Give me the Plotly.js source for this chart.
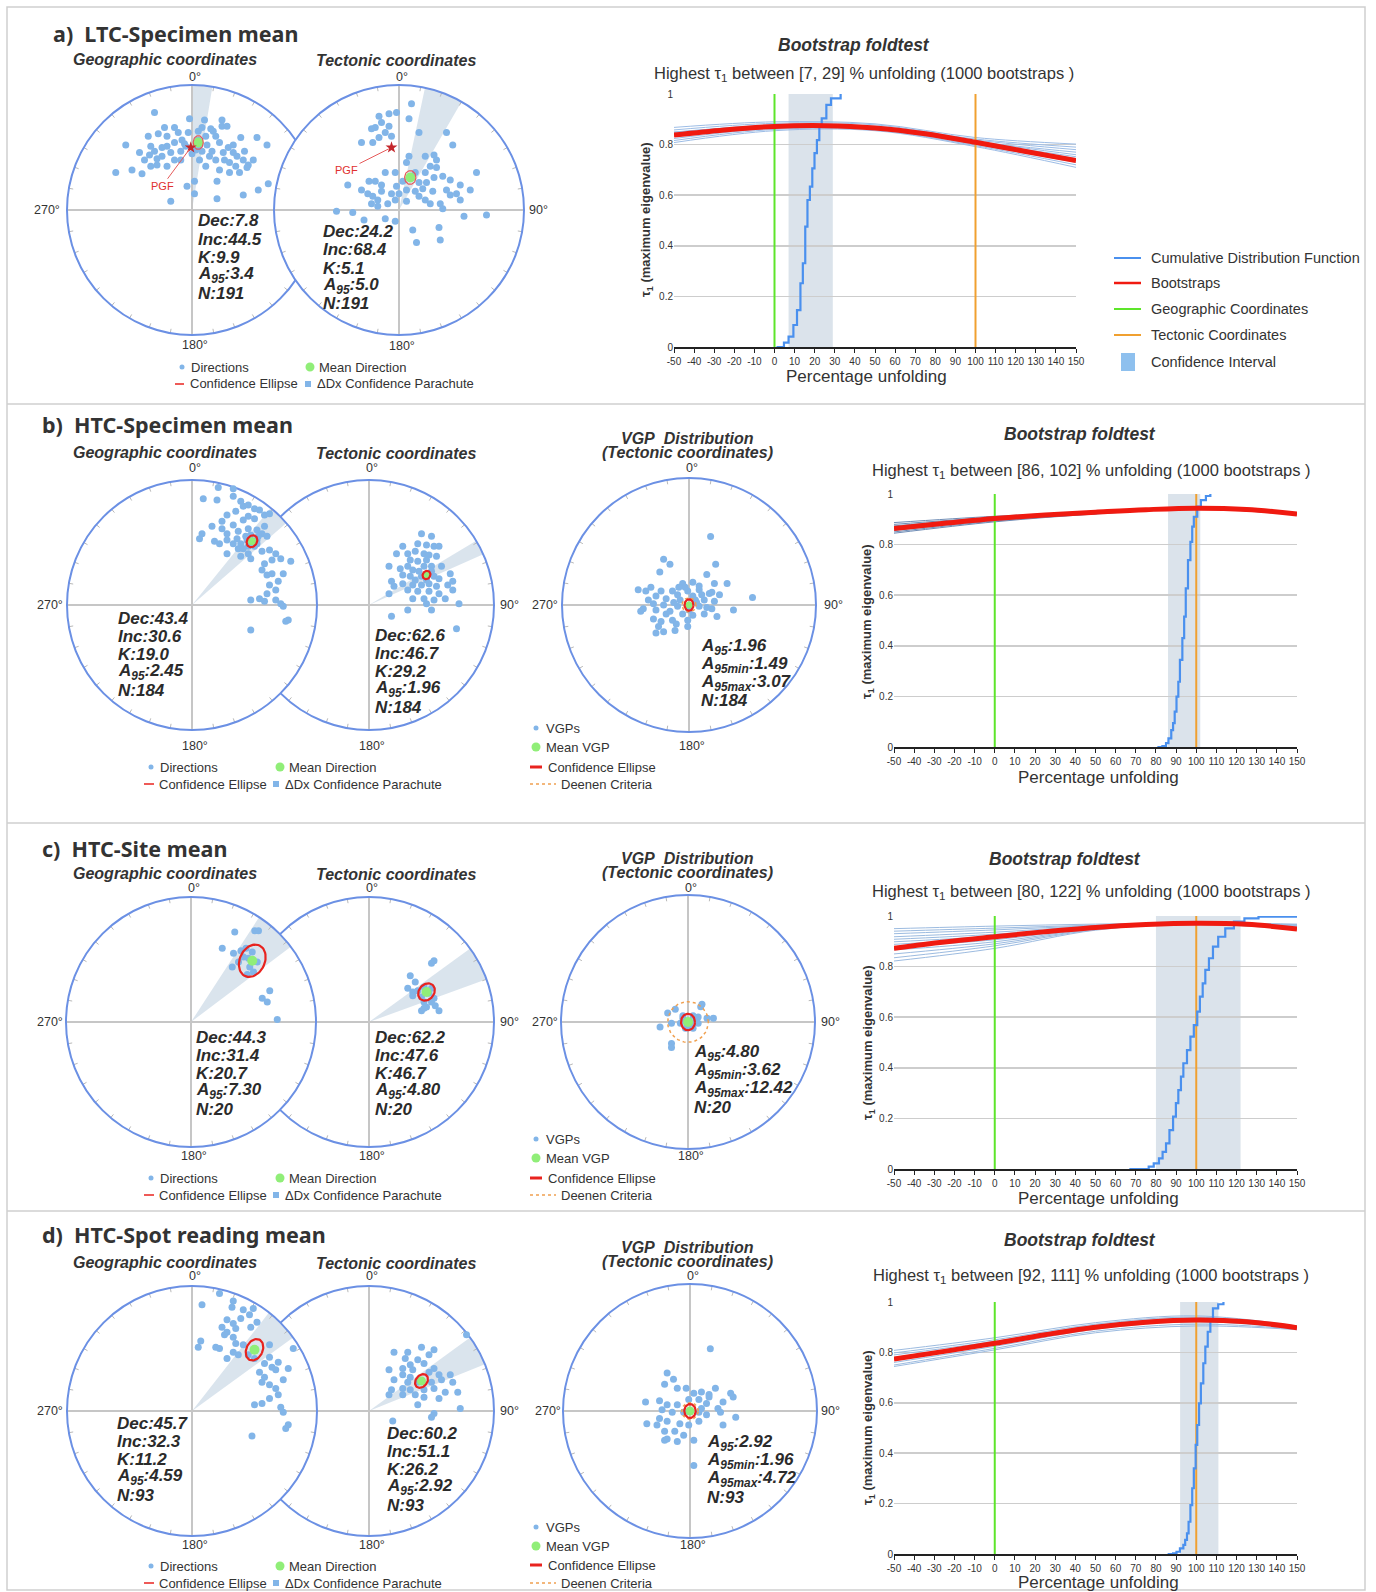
<!DOCTYPE html>
<html><head><meta charset="utf-8">
<script src="https://cdn.plot.ly/plotly-3.0.1.min.js"></script>
<style>html,body{margin:0;padding:0;background:#fff}#chart{width:1376px;height:1592px}</style>
</head><body><div id="chart"></div>
<script>
// ---------------- DATA ----------------
// stereonet point positions (normalized to net radius, x east, y north)
const aGeoX = [-0.30,-0.53,-0.61,-0.48,-0.40,-0.17,-0.04,0.02,0.02,0.20,0.20,0.41,0.53,0.61,0.60,0.52,0.39,0.24,0.10,-0.02,-0.14,-0.22,-0.27,-0.35,-0.33,-0.34,-0.28,-0.30,-0.20,-0.14,-0.08,-0.03,0.05,0.11,0.17,0.24,0.28,0.19,0.22,0.29,0.33,0.36,0.42,0.41,0.45,0.38,0.30,0.22,0.19,0.16,0.08,0.06,0.14,0.11,-0.05,-0.09,-0.17,-0.24,-0.28,-0.20,-0.42,-0.33,-0.20,-0.11,0.05,0.30,0.49,0.44,0.33,0.25,-0.09,-0.14,0.05,0.00,0.03,-0.06,0.12,0.26,0.35,-0.38,-0.24,0.15,0.08];
const aGeoY = [0.78,0.52,0.30,0.32,0.29,0.07,0.19,0.13,0.23,0.23,0.09,0.12,0.16,0.21,0.52,0.58,0.58,0.72,0.72,0.73,0.66,0.66,0.61,0.59,0.51,0.44,0.41,0.47,0.51,0.54,0.56,0.62,0.63,0.59,0.63,0.67,0.67,0.59,0.54,0.50,0.46,0.43,0.47,0.40,0.36,0.30,0.30,0.32,0.40,0.47,0.47,0.40,0.43,0.35,0.51,0.47,0.46,0.43,0.36,0.35,0.46,0.35,0.59,0.62,0.56,0.38,0.40,0.34,0.52,0.46,0.40,0.40,0.51,0.45,0.48,0.53,0.52,0.40,0.35,0.40,0.50,0.65,0.66];
const aTecX = [0.10,-0.16,-0.08,-0.02,-0.14,-0.08,-0.19,-0.11,-0.22,-0.06,-0.16,-0.21,0.16,0.08,0.38,0.43,-0.30,0.08,0.21,0.28,0.30,0.25,0.06,-0.03,-0.11,-0.19,-0.24,-0.41,0.62,0.57,0.49,0.41,0.35,0.28,0.22,0.16,0.06,0.00,-0.06,-0.14,-0.21,-0.22,-0.17,-0.09,-0.03,0.13,0.16,0.21,0.25,0.33,0.35,0.41,0.49,0.52,0.70,0.32,0.33,0.14,0.11,-0.03,-0.11,-0.28,-0.37,-0.50,-0.17,0.06,0.19,0.27,0.38,0.46,-0.30,-0.25,-0.14,0.03,-0.02,0.13,0.21,0.30];
const aTecY = [0.85,0.75,0.77,0.78,0.70,0.67,0.66,0.62,0.65,0.59,0.58,0.54,0.62,0.73,0.62,0.52,0.54,0.43,0.43,0.44,0.40,0.35,0.38,0.30,0.30,0.23,0.23,0.20,0.30,0.16,0.20,0.24,0.27,0.26,0.22,0.22,0.16,0.13,0.13,0.15,0.11,0.05,0.03,0.05,0.08,0.15,0.11,0.08,0.05,0.05,0.01,0.12,0.08,-0.05,-0.04,-0.14,-0.24,-0.26,-0.16,-0.09,-0.07,-0.08,-0.02,-0.01,0.08,0.07,0.17,0.15,0.16,0.13,0.16,0.13,0.20,0.23,0.19,0.30,0.30,0.34];
const bGeoX = [0.21,0.33,0.09,0.20,0.33,0.39,0.41,0.45,0.50,0.54,0.35,0.28,0.24,0.16,0.24,0.33,0.41,0.45,0.50,0.58,0.62,0.28,0.37,0.45,0.52,0.58,0.56,0.60,0.52,0.45,0.37,0.33,0.28,0.22,0.18,0.06,0.08,0.28,0.39,0.47,0.56,0.62,0.67,0.64,0.71,0.79,0.58,0.56,0.60,0.64,0.73,0.69,0.62,0.67,0.60,0.54,0.47,0.58,0.67,0.71,0.73,0.77,0.75,0.47,0.45,0.39,0.52,0.43,0.44,0.50,0.41,0.47,0.36,0.53];
const bGeoY = [0.94,0.93,0.85,0.84,0.87,0.83,0.79,0.80,0.77,0.76,0.75,0.72,0.67,0.63,0.61,0.64,0.68,0.71,0.69,0.72,0.73,0.57,0.59,0.61,0.60,0.63,0.57,0.55,0.52,0.47,0.45,0.49,0.52,0.49,0.51,0.53,0.57,0.41,0.39,0.37,0.43,0.44,0.41,0.36,0.37,0.35,0.33,0.28,0.24,0.25,0.25,0.19,0.16,0.12,0.09,0.05,0.04,0.03,0.04,0.01,-0.01,-0.12,-0.13,-0.20,0.41,0.49,0.49,0.55,0.52,0.47,0.45,0.56,0.53,0.55];
const bTecX = [0.42,0.50,0.39,0.46,0.52,0.56,0.27,0.22,0.31,0.37,0.44,0.48,0.54,0.33,0.39,0.46,0.16,0.25,0.31,0.35,0.44,0.50,0.58,0.65,0.27,0.33,0.42,0.52,0.56,0.18,0.27,0.35,0.42,0.48,0.54,0.63,0.67,0.31,0.39,0.48,0.56,0.35,0.44,0.52,0.61,0.31,0.50,0.46,0.72,0.18,0.70,0.20,0.16,0.67,0.40,0.46,0.37,0.50];
const bTecY = [0.57,0.55,0.49,0.48,0.47,0.47,0.47,0.41,0.41,0.43,0.41,0.40,0.39,0.36,0.35,0.36,0.31,0.29,0.31,0.28,0.31,0.31,0.31,0.25,0.24,0.23,0.23,0.23,0.21,0.19,0.17,0.16,0.16,0.17,0.15,0.16,0.12,0.12,0.11,0.11,0.09,0.05,0.05,0.04,0.05,-0.04,-0.04,0.01,0.01,-0.09,-0.19,0.15,0.09,0.19,0.27,0.20,0.20,0.27];
const bVgpX = [0.17,0.21,-0.20,-0.15,-0.23,0.14,0.20,0.30,0.03,-0.05,-0.30,-0.40,-0.34,-0.22,-0.13,-0.09,-0.01,0.08,0.16,0.24,-0.26,-0.18,-0.07,0.03,0.12,0.20,-0.28,-0.20,-0.09,0.08,0.18,-0.36,-0.26,-0.18,-0.05,0.03,0.12,0.22,0.35,0.50,-0.38,-0.28,-0.22,-0.13,-0.01,-0.24,-0.20,-0.11,-0.26,-0.01,-0.32,-0.03,0.05,0.06,0.10,-0.12,0.14,-0.15,0.00,0.08,-0.08,0.18,-0.10];
const bVgpY = [0.54,0.32,0.36,0.32,0.26,0.24,0.17,0.17,0.18,0.17,0.14,0.12,0.11,0.11,0.11,0.08,0.11,0.12,0.09,0.08,0.07,0.05,0.04,0.07,0.04,0.03,0.01,0.00,-0.01,-0.01,-0.03,-0.03,-0.04,-0.07,-0.07,-0.08,-0.07,-0.09,-0.04,0.06,-0.05,-0.11,-0.13,-0.12,-0.12,-0.17,-0.21,-0.20,-0.22,-0.17,0.04,0.14,0.04,0.02,0.08,0.02,-0.02,-0.05,-0.04,0.15,0.14,0.10,-0.15];
const cGeoX = [0.35,0.51,0.54,0.25,0.34,0.40,0.44,0.49,0.33,0.47,0.50,0.63,0.57,0.61,0.69,0.42,0.53,0.38,0.46,0.45];
const cGeoY = [0.72,0.73,0.73,0.59,0.55,0.57,0.59,0.56,0.44,0.44,0.40,0.25,0.19,0.16,0.02,0.52,0.48,0.48,0.51,0.38];
const cTecX = [0.52,0.50,0.33,0.37,0.31,0.35,0.39,0.44,0.48,0.52,0.50,0.44,0.46,0.53,0.56,0.42,0.44,0.35,0.42,0.50];
const cTecY = [0.49,0.47,0.37,0.32,0.27,0.24,0.25,0.28,0.23,0.19,0.16,0.16,0.12,0.13,0.09,0.09,0.11,0.21,0.20,0.27];
const cVgpX = [-0.10,-0.16,0.11,0.10,0.04,0.08,0.15,0.20,-0.04,-0.06,-0.13,-0.22,0.04,-0.02,-0.13,-0.13,0.06,0.02,-0.04,0.08];
const cVgpY = [0.10,0.07,0.14,0.12,0.05,0.04,0.03,0.03,0.03,-0.01,-0.01,-0.04,-0.05,-0.05,-0.17,-0.20,0.01,-0.03,0.05,-0.01];
const dGeoX = [0.22,0.08,0.33,0.32,0.41,0.49,0.46,0.39,0.28,0.33,0.24,0.35,0.28,0.26,0.33,0.47,0.52,0.07,0.05,0.19,0.22,0.35,0.41,0.33,0.37,0.45,0.50,0.28,0.62,0.64,0.67,0.81,0.77,0.54,0.58,0.56,0.62,0.73,0.67,0.69,0.62,0.56,0.50,0.71,0.73,0.77,0.75,0.48,0.58,0.69,0.62];
const dGeoY = [0.94,0.85,0.88,0.83,0.81,0.82,0.77,0.74,0.73,0.70,0.67,0.66,0.63,0.61,0.59,0.67,0.71,0.56,0.51,0.51,0.50,0.54,0.53,0.47,0.45,0.45,0.42,0.42,0.43,0.35,0.33,0.50,0.34,0.31,0.27,0.23,0.21,0.25,0.18,0.13,0.10,0.06,0.05,0.03,-0.01,-0.11,-0.14,-0.20,0.38,0.39,0.53];
const dTecX = [0.78,0.42,0.52,0.31,0.20,0.48,0.29,0.39,0.44,0.33,0.16,0.27,0.35,0.52,0.48,0.56,0.65,0.27,0.33,0.20,0.31,0.39,0.50,0.58,0.67,0.18,0.27,0.33,0.44,0.52,0.61,0.71,0.37,0.44,0.56,0.73,0.52,0.50,0.39,0.19,0.27,0.16];
const dTecY = [0.61,0.51,0.49,0.47,0.47,0.45,0.42,0.41,0.38,0.37,0.33,0.34,0.33,0.34,0.31,0.29,0.29,0.29,0.27,0.25,0.23,0.23,0.23,0.25,0.23,0.17,0.18,0.17,0.17,0.18,0.15,0.15,0.13,0.11,0.10,0.02,-0.02,-0.05,0.05,-0.08,0.13,0.13];
const dVgpX = [0.16,-0.18,-0.13,-0.20,-0.10,-0.03,0.03,0.09,0.15,0.20,0.26,0.32,0.34,-0.35,-0.24,-0.18,-0.10,-0.01,0.07,0.13,0.22,0.15,-0.22,-0.14,-0.05,0.07,0.13,0.24,0.36,-0.34,-0.26,-0.18,-0.08,-0.01,0.07,0.26,-0.20,-0.12,-0.05,-0.18,-0.10,-0.20,0.03,0.03,-0.24,0.09];
const dVgpY = [0.49,0.30,0.25,0.21,0.18,0.18,0.14,0.15,0.13,0.18,0.07,0.14,0.11,0.07,0.08,0.05,0.05,0.09,0.09,0.06,0.02,0.11,0.01,-0.01,-0.01,-0.01,-0.03,-0.01,-0.05,-0.10,-0.11,-0.08,-0.10,-0.11,-0.08,-0.11,-0.16,-0.16,-0.19,-0.22,-0.24,-0.23,-0.23,-0.43,-0.06,0.02];

// means [x,y], confidence ellipses [semiX, semiY, rotationDeg], parachutes [centreDeg, halfWidthDeg]
const aGeoMean=[0.05,0.54], aGeoEll=[0.04,0.055,0], aGeoPara=[5,4.6];
const aTecMean=[0.09,0.26], aTecEll=[0.045,0.055,0], aTecPara=[21,9];
const bGeoMean=[0.48,0.51], bGeoEll=[0.04,0.05,-30], bGeoPara=[44,5];
const bTecMean=[0.46,0.24], bTecEll=[0.03,0.035,-30], bTecPara=[62.6,3.5];
const bVgpMean=[0,0], bVgpEll=[0.035,0.045,0], bVgpDeenen=[0.055];
const cGeoMean=[0.49,0.49], cGeoEll=[0.10,0.135,-25], cGeoPara=[43,10];
const cTecMean=[0.46,0.24], cTecEll=[0.06,0.075,-40], cTecPara=[62,8];
const cVgpMean=[0,0], cVgpEll=[0.055,0.065,0], cVgpDeenen=[0.16];
const dGeoMean=[0.50,0.49], dGeoEll=[0.065,0.09,-25], dGeoPara=[46,8];
const dTecMean=[0.42,0.24], dTecEll=[0.045,0.06,-40], dTecPara=[61,7];
const dVgpMean=[0,0], dVgpEll=[0.045,0.055,0], dVgpDeenen=[0.065];
const aGeoPgf=[-0.01,0.50], aGeoPgfLabel=[-0.24,0.19];
const aTecPgf=[-0.06,0.50], aTecPgfLabel=[-0.42,0.32];

const aGeoStats=['Dec:7.8','Inc:44.5','K:9.9','A<sub>95</sub>:3.4','N:191'];
const aTecStats=['Dec:24.2','Inc:68.4','K:5.1','A<sub>95</sub>:5.0','N:191'];
const bGeoStats=['Dec:43.4','Inc:30.6','K:19.0','A<sub>95</sub>:2.45','N:184'];
const bTecStats=['Dec:62.6','Inc:46.7','K:29.2','A<sub>95</sub>:1.96','N:184'];
const bVgpStats=['A<sub>95</sub>:1.96','A<sub>95min</sub>:1.49','A<sub>95max</sub>:3.07','N:184'];
const cGeoStats=['Dec:44.3','Inc:31.4','K:20.7','A<sub>95</sub>:7.30','N:20'];
const cTecStats=['Dec:62.2','Inc:47.6','K:46.7','A<sub>95</sub>:4.80','N:20'];
const cVgpStats=['A<sub>95</sub>:4.80','A<sub>95min</sub>:3.62','A<sub>95max</sub>:12.42','N:20'];
const dGeoStats=['Dec:45.7','Inc:32.3','K:11.2','A<sub>95</sub>:4.59','N:93'];
const dTecStats=['Dec:60.2','Inc:51.1','K:26.2','A<sub>95</sub>:2.92','N:93'];
const dVgpStats=['A<sub>95</sub>:2.92','A<sub>95min</sub>:1.96','A<sub>95max</sub>:4.72','N:93'];

// bootstrap fold test
const foldX=[-50,-25,0,25,50,75,100,125,150];
const aRed=[0.838,0.858,0.872,0.875,0.866,0.843,0.809,0.773,0.737];
const bRed=[0.864,0.884,0.903,0.917,0.928,0.938,0.944,0.939,0.921];
const cRed=[0.872,0.897,0.918,0.938,0.955,0.966,0.971,0.967,0.949];
const dRed=[0.774,0.804,0.836,0.870,0.900,0.920,0.929,0.922,0.898];
const bootX=[-50,0,50,100,150];
const aBoot=[[0.868,0.890,0.882,0.828,0.802],[0.858,0.884,0.878,0.822,0.790],[0.848,0.878,0.872,0.818,0.780],[0.842,0.876,0.868,0.812,0.760],[0.832,0.870,0.864,0.806,0.745],[0.824,0.864,0.860,0.800,0.730],[0.816,0.860,0.858,0.796,0.720],[0.808,0.855,0.855,0.792,0.710],[0.850,0.874,0.866,0.812,0.770],[0.838,0.868,0.862,0.808,0.752]];
const bBoot=[[0.887,0.912,0.930,0.945,0.922],[0.880,0.908,0.928,0.944,0.921],[0.874,0.905,0.927,0.944,0.920],[0.868,0.902,0.926,0.943,0.920],[0.862,0.899,0.925,0.943,0.919],[0.856,0.896,0.924,0.942,0.919],[0.850,0.893,0.922,0.942,0.918],[0.845,0.890,0.921,0.941,0.918]];
const cBoot=[[0.950,0.960,0.968,0.972,0.968],[0.940,0.952,0.964,0.972,0.966],[0.930,0.945,0.962,0.972,0.965],[0.918,0.936,0.960,0.971,0.962],[0.908,0.928,0.958,0.971,0.960],[0.898,0.921,0.956,0.971,0.958],[0.888,0.914,0.954,0.970,0.956],[0.878,0.906,0.952,0.970,0.954],[0.866,0.898,0.950,0.969,0.952],[0.850,0.890,0.948,0.969,0.950],[0.835,0.882,0.946,0.968,0.948],[0.822,0.872,0.944,0.968,0.946]];
const dBoot=[[0.808,0.858,0.918,0.945,0.905],[0.798,0.850,0.912,0.940,0.902],[0.790,0.844,0.908,0.936,0.900],[0.780,0.838,0.904,0.932,0.898],[0.770,0.832,0.898,0.928,0.896],[0.760,0.824,0.892,0.922,0.894],[0.750,0.816,0.884,0.912,0.892],[0.744,0.810,0.878,0.905,0.890]];
const aCdfX=[1,2.3,4.7,7.0,9.4,11.2,12.9,14.1,15.3,16.4,17.6,18.8,19.9,21.1,22.3,23.5,25.8,28.1,32.9];
const aCdfY=[0,0,0.017,0.041,0.087,0.146,0.252,0.331,0.476,0.581,0.634,0.706,0.766,0.818,0.871,0.904,0.957,0.983,1.0];
const bCdfX=[80.7,83.2,85.0,86.2,87.6,88.5,89.3,90.2,91.1,91.9,93.1,94.0,94.8,95.9,97.1,98.0,98.8,100.5,102.3,104.8,107.0];
const bCdfY=[0,0.004,0.015,0.034,0.067,0.094,0.140,0.199,0.258,0.344,0.430,0.515,0.627,0.739,0.811,0.871,0.910,0.950,0.976,0.992,1.0];
const cCdfX=[66.8,74.6,76.4,78.9,81.5,83.3,85.0,86.7,88.5,89.9,91.1,92.4,93.6,95.4,97.1,98.8,100.5,101.8,103.2,104.5,106.3,108.3,110.9,114.4,118.7,123.9,130.9,149.8];
const cCdfY=[0,0,0.009,0.022,0.042,0.068,0.101,0.154,0.207,0.260,0.312,0.365,0.418,0.470,0.523,0.569,0.622,0.681,0.734,0.787,0.833,0.879,0.918,0.951,0.978,0.991,0.997,1.0];
const dCdfX=[85.8,88.5,90.2,91.9,93.6,94.5,95.4,96.2,97.1,98.0,98.8,99.7,100.5,101.4,102.3,103.5,104.5,105.7,107.0,108.3,110.9,113.5];
const dCdfY=[0,0.003,0.009,0.022,0.036,0.056,0.082,0.128,0.194,0.261,0.340,0.433,0.512,0.598,0.677,0.757,0.823,0.882,0.929,0.975,0.991,1.0];
const aCI=[7,29], bCI=[86,102], cCI=[80,122], dCI=[92,111];
const unfoldGeo=0, unfoldTec=100;
const xTickVals=[-50,-40,-30,-20,-10,0,10,20,30,40,50,60,70,80,90,100,110,120,130,140,150];
const xTickText=['-50','-40','-30','-20','-10','0','10','20','30','40','50','60','70','80','90','100','110','120','130','140','150'];
const aSub='Highest τ<sub>1</sub> between [7, 29] % unfolding (1000 bootstraps )';
const bSub='Highest τ<sub>1</sub> between [86, 102] % unfolding (1000 bootstraps )';
const cSub='Highest τ<sub>1</sub> between [80, 122] % unfolding (1000 bootstraps )';
const dSub='Highest τ<sub>1</sub> between [92, 111] % unfolding (1000 bootstraps )';

// ---------------- BUILD ----------------
const SANS='"Liberation Sans", Arial, Helvetica, sans-serif';
const HEAD='"Noto Sans", "Open Sans", '+SANS;
const TXT='#333333';
const W=1376,H=1592;
const fx=p=>p/W, fy=p=>1-p/H;
const traces=[], shapes=[], annotations=[];
const layout={width:W,height:H,margin:{l:0,r:0,t:0,b:0,pad:0},paper_bgcolor:'#ffffff',plot_bgcolor:'rgba(0,0,0,0)',
  showlegend:false,hovermode:false,font:{family:SANS,color:TXT},shapes:shapes,annotations:annotations};
const PT='#82b5e8', GREEN='#90ee78', RED='#e8231f';

function ids(n){const s=n===1?'':String(n);return {xa:'xaxis'+s,ya:'yaxis'+s,xr:'x'+s,yr:'y'+s};}
function note(x,y,text,size,opt){
  annotations.push(Object.assign({xref:'paper',yref:'paper',x:fx(x),y:fy(y),text:text,showarrow:false,
    xanchor:'center',yanchor:'middle',font:{family:SANS,size:size,color:TXT}},opt||{}));
}
function ellipse(m,e){
  const xs=[],ys=[],th=e[2]*Math.PI/180;
  for(let t=0;t<=360;t+=6){const r=t*Math.PI/180,ex=e[0]*Math.cos(r),ey=e[1]*Math.sin(r);
    xs.push(m[0]+ex*Math.cos(th)-ey*Math.sin(th)); ys.push(m[1]+ex*Math.sin(th)+ey*Math.cos(th));}
  return {x:xs,y:ys};
}
function stereonet(n,cx,cy,R,s){
  const P=1.06,d=ids(n);
  layout[d.xa]={domain:[fx(cx-R*P),fx(cx+R*P)],range:[-P,P],visible:false,fixedrange:true,anchor:d.yr};
  layout[d.ya]={domain:[fy(cy+R*P),fy(cy-R*P)],range:[-P,P],visible:false,fixedrange:true,anchor:d.xr};
  const ref={xref:d.xr,yref:d.yr,layer:'below'};
  shapes.push(Object.assign({type:'circle',x0:-1,x1:1,y0:-1,y1:1,fillcolor:'#ffffff',line:{width:0}},ref));
  if(s.para){
    let p='M0,0';
    for(let a=s.para[0]-s.para[1];a<=s.para[0]+s.para[1]+1e-9;a+=0.5){const r=a*Math.PI/180;p+=' L'+Math.sin(r).toFixed(4)+','+Math.cos(r).toFixed(4);}
    p+=' Z';
    shapes.push(Object.assign({type:'path',path:p,fillcolor:'rgba(188,206,222,0.55)',line:{width:0}},ref));
  }
  shapes.push(Object.assign({type:'line',x0:-1,x1:1,y0:0,y1:0,line:{color:'#c6c6c6',width:2}},ref));
  shapes.push(Object.assign({type:'line',x0:0,x1:0,y0:-1,y1:1,line:{color:'#c6c6c6',width:2}},ref));
  let t='';
  for(let a=10;a<360;a+=10){if(a%90===0)continue;const r=a*Math.PI/180,sn=Math.sin(r),cs=Math.cos(r);
    t+='M'+(0.965*sn).toFixed(4)+','+(0.965*cs).toFixed(4)+' L'+sn.toFixed(4)+','+cs.toFixed(4)+' ';}
  shapes.push(Object.assign({type:'path',path:t,line:{color:'#b8b8b8',width:1}},ref));
  shapes.push(Object.assign({type:'circle',x0:-1,x1:1,y0:-1,y1:1,line:{color:'#6b90e4',width:2}},ref));
  traces.push({type:'scatter',mode:'markers',x:s.x,y:s.y,xaxis:d.xr,yaxis:d.yr,marker:{size:s.ms||7,color:PT},hoverinfo:'skip'});
  if(s.deenen){
    const c=ellipse(s.mean,[s.deenen[0],s.deenen[0],0]);
    traces.push({type:'scatter',mode:'lines',x:c.x,y:c.y,xaxis:d.xr,yaxis:d.yr,line:{color:'#f0a050',width:1.5,dash:'dot'},hoverinfo:'skip'});
  }
  traces.push({type:'scatter',mode:'markers',x:[s.mean[0]],y:[s.mean[1]],xaxis:d.xr,yaxis:d.yr,marker:{size:s.mms||10,color:GREEN},hoverinfo:'skip'});
  const e=ellipse(s.mean,s.ell);
  traces.push({type:'scatter',mode:'lines',x:e.x,y:e.y,xaxis:d.xr,yaxis:d.yr,line:{color:s.thin?'#e65a5a':RED,width:s.thin?1.2:2.2},hoverinfo:'skip'});
  if(s.pgf){
    traces.push({type:'scatter',mode:'markers',x:[s.pgf[0]],y:[s.pgf[1]],xaxis:d.xr,yaxis:d.yr,marker:{symbol:'star',size:9,color:'#c4262b'},hoverinfo:'skip'});
    annotations.push({xref:d.xr,yref:d.yr,axref:d.xr,ayref:d.yr,x:s.pgf[0],y:s.pgf[1],ax:s.pgfLabel[0],ay:s.pgfLabel[1],
      text:'PGF',showarrow:true,arrowhead:0,arrowwidth:1,arrowcolor:'#e65a5a',standoff:3,font:{family:SANS,size:11,color:'#e0302e'}});
  }
  const sx=s.statsPos[0], sy=s.statsPos[1];
  s.stats.forEach((v,i)=>note(sx,sy+i*18,'<b><i>'+v+'</i></b>',17,{xanchor:'left',font:{family:SANS,size:17,color:'#2b2b2b'}}));
}
function degLabels(cx,cy,y0,y180,left,right){
  note(cx+3,y0,'0°',12.5); note(cx+3,y180,'180°',12.5);
  if(left) note(left,cy,'270°',12.5);
  if(right) note(right,cy,'90°',12.5);
}
function fold(n,x0,x1,y0,y1,f){
  const d=ids(n);
  layout[d.xa]={domain:[fx(x0),fx(x1)],anchor:d.yr,range:[-50,150],tickmode:'array',tickvals:xTickVals,ticktext:xTickText,ticks:'outside',ticklen:4,tickwidth:1,
    tickcolor:'#222',showline:true,linecolor:'#222',linewidth:2,showgrid:false,zeroline:false,fixedrange:true,
    tickfont:{family:SANS,size:10,color:'#333'}};
  layout[d.ya]={domain:[fy(y1),fy(y0)],anchor:d.xr,range:[0,1],tickmode:'linear',tick0:0,dtick:0.2,showgrid:true,gridcolor:'#cdcdcd',gridwidth:1.5,
    zeroline:false,showline:false,ticks:'',fixedrange:true,tickfont:{family:SANS,size:10,color:'#333'}};
  shapes.push({type:'rect',xref:d.xr,yref:d.yr,x0:f.ci[0],x1:f.ci[1],y0:0,y1:1,fillcolor:'#dbe3eb',line:{width:0},layer:'below'});
  f.boot.forEach(b=>traces.push({type:'scatter',mode:'lines',x:bootX,y:b,xaxis:d.xr,yaxis:d.yr,line:{color:f.bootColor,width:1,shape:'spline'},hoverinfo:'skip'}));
  traces.push({type:'scatter',mode:'lines',x:[unfoldGeo,unfoldGeo],y:[0,1],xaxis:d.xr,yaxis:d.yr,line:{color:'#5de52a',width:2},hoverinfo:'skip'});
  traces.push({type:'scatter',mode:'lines',x:[unfoldTec,unfoldTec],y:[0,1],xaxis:d.xr,yaxis:d.yr,line:{color:'#f0a030',width:2},hoverinfo:'skip'});
  traces.push({type:'scatter',mode:'lines',x:f.cdfX,y:f.cdfY,xaxis:d.xr,yaxis:d.yr,line:{color:'#4a90ee',width:2.2,shape:'hv'},hoverinfo:'skip'});
  traces.push({type:'scatter',mode:'lines',x:foldX,y:f.red,xaxis:d.xr,yaxis:d.yr,line:{color:'#f01a10',width:5,shape:'spline'},hoverinfo:'skip'});
  note(f.title[0],f.title[1],'<b><i>Bootstrap foldtest</i></b>',17.5);
  note(f.sub[0],f.sub[1],f.subText,16.5);
  note(f.xt[0],f.xt[1],'Percentage unfolding',17);
  note(f.yt[0],f.yt[1],'<b>τ<sub>1</sub> (maximum eigenvalue)</b>',13,{textangle:-90});
}
function dot(x,y,size,color){shapes.push({type:'circle',xref:'paper',yref:'paper',x0:fx(x-size/2),x1:fx(x+size/2),y0:fy(y+size/2),y1:fy(y-size/2),fillcolor:color,line:{width:0},layer:'above'});}
function hline(x0,x1,y,color,width,dash){shapes.push({type:'line',xref:'paper',yref:'paper',x0:fx(x0),x1:fx(x1),y0:fy(y),y1:fy(y),line:{color:color,width:width,dash:dash||'solid'},layer:'above'});}
function box(x0,x1,y0,y1,color){shapes.push({type:'rect',xref:'paper',yref:'paper',x0:fx(x0),x1:fx(x1),y0:fy(y1),y1:fy(y0),fillcolor:color,line:{width:0},layer:'above'});}
function dirLegend(y1,y2,p){
  dot(p[0],y1,5,PT); note(p[1],y1,'Directions',13,{xanchor:'left'});
  dot(p[2],y1,9,GREEN); note(p[3],y1,'Mean Direction',13,{xanchor:'left'});
  hline(p[4],p[5],y2,RED,1.5); note(p[6],y2,'Confidence Ellipse',13,{xanchor:'left'});
  box(p[7]-3,p[7]+3,y2-3,y2+3,PT); note(p[8],y2,'ΔDx Confidence Parachute',13,{xanchor:'left'});
}
function vgpLegend(ys){
  dot(536,ys[0],5,PT); note(544,ys[0],'VGPs',13,{xanchor:'left'});
  dot(536,ys[1],9,GREEN); note(544,ys[1],'Mean VGP',13,{xanchor:'left'});
  hline(530,542,ys[2],RED,3); note(546,ys[2],'Confidence Ellipse',13,{xanchor:'left'});
  hline(530,556,ys[3],'#f0a050',1.5,'dot'); note(559,ys[3],'Deenen Criteria',13,{xanchor:'left'});
}
function secTitle(x,y,t){note(x,y,'<b>'+t+'</b>',21.5,{xanchor:'left',font:{family:HEAD,size:21.5,color:TXT}});}
function netTitle(x,y,t){note(x,y,'<b><i>'+t+'</i></b>',16);}

// frame
shapes.push({type:'rect',xref:'paper',yref:'paper',x0:fx(7),x1:fx(1365),y0:fy(1590),y1:fy(7),line:{color:'#cfcfcf',width:1.5},fillcolor:'rgba(0,0,0,0)',layer:'below'});
[404,823,1211].forEach(y=>shapes.push({type:'line',xref:'paper',yref:'paper',x0:fx(7),x1:fx(1365),y0:fy(y),y1:fy(y),line:{color:'#cfcfcf',width:1.5},layer:'below'}));

// fold tests (axes 1-4)
fold(1,674,1076,94,347,{ci:aCI,boot:aBoot,bootColor:'#9dbde6',cdfX:aCdfX,cdfY:aCdfY,red:aRed,title:[854,45],sub:[864,74],subText:aSub,xt:[867,376],yt:[647,220]});
fold(2,894,1297,494,747,{ci:bCI,boot:bBoot,bootColor:'#6f8db6',cdfX:bCdfX,cdfY:bCdfY,red:bRed,title:[1080,434],sub:[1091,471],subText:bSub,xt:[1098,777],yt:[868,622]});
fold(3,894,1297,916,1169,{ci:cCI,boot:cBoot,bootColor:'#9cbbe0',cdfX:cCdfX,cdfY:cCdfY,red:cRed,title:[1065,859],sub:[1091,892],subText:cSub,xt:[1098,1198],yt:[868,1043]});
fold(4,894,1297,1302,1554,{ci:dCI,boot:dBoot,bootColor:'#9cbbe0',cdfX:dCdfX,cdfY:dCdfY,red:dRed,title:[1080,1240],sub:[1091,1276],subText:dSub,xt:[1098,1582],yt:[868,1428]});

// fold legend (row a)
hline(1114,1141,258,'#4a90ee',2); note(1149,258,'Cumulative Distribution Function',14.5,{xanchor:'left'});
hline(1114,1141,283,'#f01a10',2.5); note(1149,283,'Bootstraps',14.5,{xanchor:'left'});
hline(1114,1141,309,'#5de52a',2); note(1149,309,'Geographic Coordinates',14.5,{xanchor:'left'});
hline(1114,1141,335,'#f0a030',2); note(1149,335,'Tectonic Coordinates',14.5,{xanchor:'left'});
box(1121,1135,353,371,'#8ec0ee'); note(1149,362,'Confidence Interval',14.5,{xanchor:'left'});

// row a : geo (5) under tec (6)
secTitle(51,34,'a)\u00a0 LTC-Specimen mean');
netTitle(165,60,'Geographic coordinates'); netTitle(396,61,'Tectonic coordinates');
stereonet(5,192,210,125,{x:aGeoX,y:aGeoY,mean:aGeoMean,ell:aGeoEll,para:aGeoPara,thin:true,pgf:aGeoPgf,pgfLabel:aGeoPgfLabel,stats:aGeoStats,statsPos:[196,221]});
stereonet(6,399,210,125,{x:aTecX,y:aTecY,mean:aTecMean,ell:aTecEll,para:aTecPara,thin:true,pgf:aTecPgf,pgfLabel:aTecPgfLabel,stats:aTecStats,statsPos:[321,232]});
degLabels(192,210,77,345,47,null); degLabels(399,210,77,346,null,538);
dirLegend(367,384,[182,189,310,317,175,184,188,308,315]);

// row b : tec (7) under geo (8), vgp (9)
secTitle(40,425,'b)\u00a0 HTC-Specimen mean');
netTitle(165,452,'Geographic coordinates'); netTitle(396,453,'Tectonic coordinates');
netTitle(687,438,'VGP\u00a0 Distribution'); netTitle(687,452,'(Tectonic coordinates)');
stereonet(7,369,605,125,{x:bTecX,y:bTecY,mean:bTecMean,ell:bTecEll,para:bTecPara,mms:8,stats:bTecStats,statsPos:[373,635]});
stereonet(8,192,605,125,{x:bGeoX,y:bGeoY,mean:bGeoMean,ell:bGeoEll,para:bGeoPara,mms:8,stats:bGeoStats,statsPos:[116,618]});
stereonet(9,689,605,127,{x:bVgpX,y:bVgpY,mean:bVgpMean,ell:bVgpEll,deenen:bVgpDeenen,mms:7,stats:bVgpStats,statsPos:[699,647]});
degLabels(192,605,468,746,50,null); degLabels(369,605,468,746,null,509); degLabels(689,605,468,746,545,833);
dirLegend(767,784,[151,158,280,287,144,154,157,276,283]);
vgpLegend([728,747,767,784]);

// row c : tec (10) under geo (11), vgp (12)
secTitle(40,848,'c)\u00a0 HTC-Site mean');
netTitle(165,873,'Geographic coordinates'); netTitle(396,874,'Tectonic coordinates');
netTitle(687,858,'VGP\u00a0 Distribution'); netTitle(687,872,'(Tectonic coordinates)');
stereonet(10,369,1022,125,{x:cTecX,y:cTecY,mean:cTecMean,ell:cTecEll,para:cTecPara,stats:cTecStats,statsPos:[373,1037]});
stereonet(11,191,1022,125,{x:cGeoX,y:cGeoY,mean:cGeoMean,ell:cGeoEll,para:cGeoPara,stats:cGeoStats,statsPos:[194,1037]});
stereonet(12,688,1022,127,{x:cVgpX,y:cVgpY,mean:cVgpMean,ell:cVgpEll,deenen:cVgpDeenen,stats:cVgpStats,statsPos:[692,1053]});
degLabels(191,1022,888,1156,50,null); degLabels(369,1022,888,1156,null,509); degLabels(688,1022,888,1156,545,830);
dirLegend(1178,1195,[151,158,280,287,144,154,157,276,283]);
vgpLegend([1139,1158,1178,1195]);

// row d : tec (13) under geo (14), vgp (15)
secTitle(40,1234,'d)\u00a0 HTC-Spot reading mean');
netTitle(165,1262,'Geographic coordinates'); netTitle(396,1263,'Tectonic coordinates');
netTitle(687,1247,'VGP\u00a0 Distribution'); netTitle(687,1261,'(Tectonic coordinates)');
stereonet(13,369,1411,125,{x:dTecX,y:dTecY,mean:dTecMean,ell:dTecEll,para:dTecPara,mms:9,stats:dTecStats,statsPos:[385,1433]});
stereonet(14,192,1411,125,{x:dGeoX,y:dGeoY,mean:dGeoMean,ell:dGeoEll,para:dGeoPara,stats:dGeoStats,statsPos:[115,1423]});
stereonet(15,690,1411,127,{x:dVgpX,y:dVgpY,mean:dVgpMean,ell:dVgpEll,deenen:dVgpDeenen,mms:9,stats:dVgpStats,statsPos:[705,1443]});
degLabels(192,1411,1276,1545,50,null); degLabels(369,1411,1276,1545,null,509); degLabels(690,1411,1276,1545,548,830);
dirLegend(1566,1583,[151,158,280,287,144,154,157,276,283]);
vgpLegend([1527,1546,1565,1583]);

Plotly.newPlot('chart',traces,layout,{staticPlot:true,displayModeBar:false});
</script></body></html>
